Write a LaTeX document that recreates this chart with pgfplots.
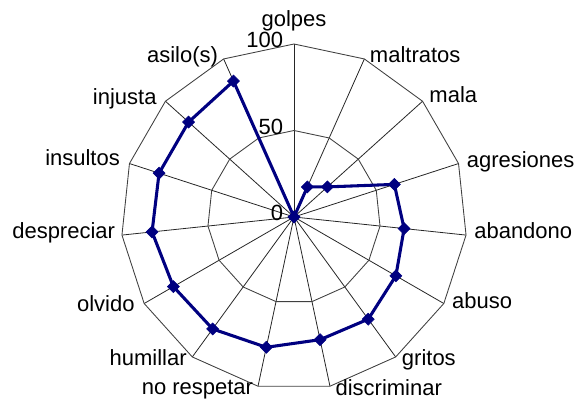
\documentclass[border=0pt]{standalone}
\usepackage{pgfplots}
\pgfplotsset{compat=1.18}
\usepgfplotslibrary{polar}
\usepackage{fontspec}
\setmainfont{Liberation Sans}
\newcommand\lbl{\fontsize{16.5}{19}\selectfont}
\definecolor{navyline}{RGB}{0,0,128}
\begin{document}
\begin{tikzpicture}
\useasboundingbox (-220.5pt,-138.75pt) rectangle (213pt,162.75pt);
\begin{polaraxis}[
  at={(0,0)}, anchor=center,
  width=259.5pt, height=259.5pt, scale only axis,
  hide axis, clip=false,
  xmin=0, xmax=360, ymin=0, ymax=100,
]
% spokes
\pgfplotsinvokeforeach{90,66,42,18,-6,-30,-54,-78,-102,-126,-150,-174,162,138,114}{
  \draw[black!85, line width=0.6pt] (axis cs:#1,0) -- (axis cs:#1,100);
}
% polygon grid
\addplot[black!75, line width=0.65pt, no marks] coordinates {
 (90,100) (66,100) (42,100) (18,100) (-6,100) (-30,100) (-54,100) (-78,100)
 (-102,100) (-126,100) (-150,100) (-174,100) (162,100) (138,100) (114,100) (90,100)};
\addplot[black!75, line width=0.65pt, no marks] coordinates {
 (90,50) (66,50) (42,50) (18,50) (-6,50) (-30,50) (-54,50) (-78,50)
 (-102,50) (-126,50) (-150,50) (-174,50) (162,50) (138,50) (114,50) (90,50)};
% data
\addplot[navyline, line width=2.3pt, mark=square*, mark size=3.2pt,
  mark options={rotate=45, solid, fill=navyline, line width=0.4pt}] coordinates {
 (90,0) (66,19) (42,26) (18,61) (-6,64) (-30,68) (-54,73) (-78,72.5)
 (-102,77) (-126,80) (-150,80.5) (-174,82.5) (162,82) (138,82) (114,86) (90,0)};
% tick labels
\node[font=\lbl, anchor=mid east, inner sep=0pt, xshift=-8pt] at (axis cs:90,100) {100};
\node[font=\lbl, anchor=mid east, inner sep=0pt, xshift=-8pt] at (axis cs:90,50) {50};
\node[font=\lbl, anchor=mid east, inner sep=0pt, xshift=-8pt] at (axis cs:90,0) {0};
% category labels
\begin{scope}[every node/.style={font=\lbl, inner sep=0pt}]
\node[anchor=base, yshift=12.75pt] at (axis cs:90,100) {golpes};
\node[anchor=mid west, xshift=4pt] at (axis cs:66,100) {maltratos};
\node[anchor=mid west, xshift=5pt, yshift=1.5pt] at (axis cs:42,100) {mala};
\node[anchor=mid west, xshift=6pt] at (axis cs:18,100) {agresiones};
\node[anchor=mid west, xshift=6pt] at (axis cs:-6,100) {abandono};
\node[anchor=mid west, xshift=6pt, yshift=-1pt] at (axis cs:-30,100) {abuso};
\node[anchor=mid west, xshift=4.5pt, yshift=-4pt] at (axis cs:-54,100) {gritos};
\node[anchor=mid west, xshift=4pt, yshift=-4.5pt] at (axis cs:-78,100) {discriminar};
\node[anchor=mid east, xshift=-3.5pt, yshift=-3.5pt] at (axis cs:-102,100) {no respetar};
\node[anchor=mid east, xshift=-4pt, yshift=-3.5pt] at (axis cs:-126,100) {humillar};
\node[anchor=mid east, xshift=-7pt, yshift=-3.5pt] at (axis cs:-150,100) {olvido};
\node[anchor=mid east, xshift=-5pt] at (axis cs:-174,100) {despreciar};
\node[anchor=mid east, xshift=-7pt, yshift=1.3pt] at (axis cs:162,100) {insultos};
\node[anchor=mid east, xshift=-6.5pt] at (axis cs:138,100) {injusta};
\node[anchor=mid east, xshift=-4pt] at (axis cs:114,100) {asilo(s)};
\end{scope}
\end{polaraxis}
\end{tikzpicture}
\end{document}
